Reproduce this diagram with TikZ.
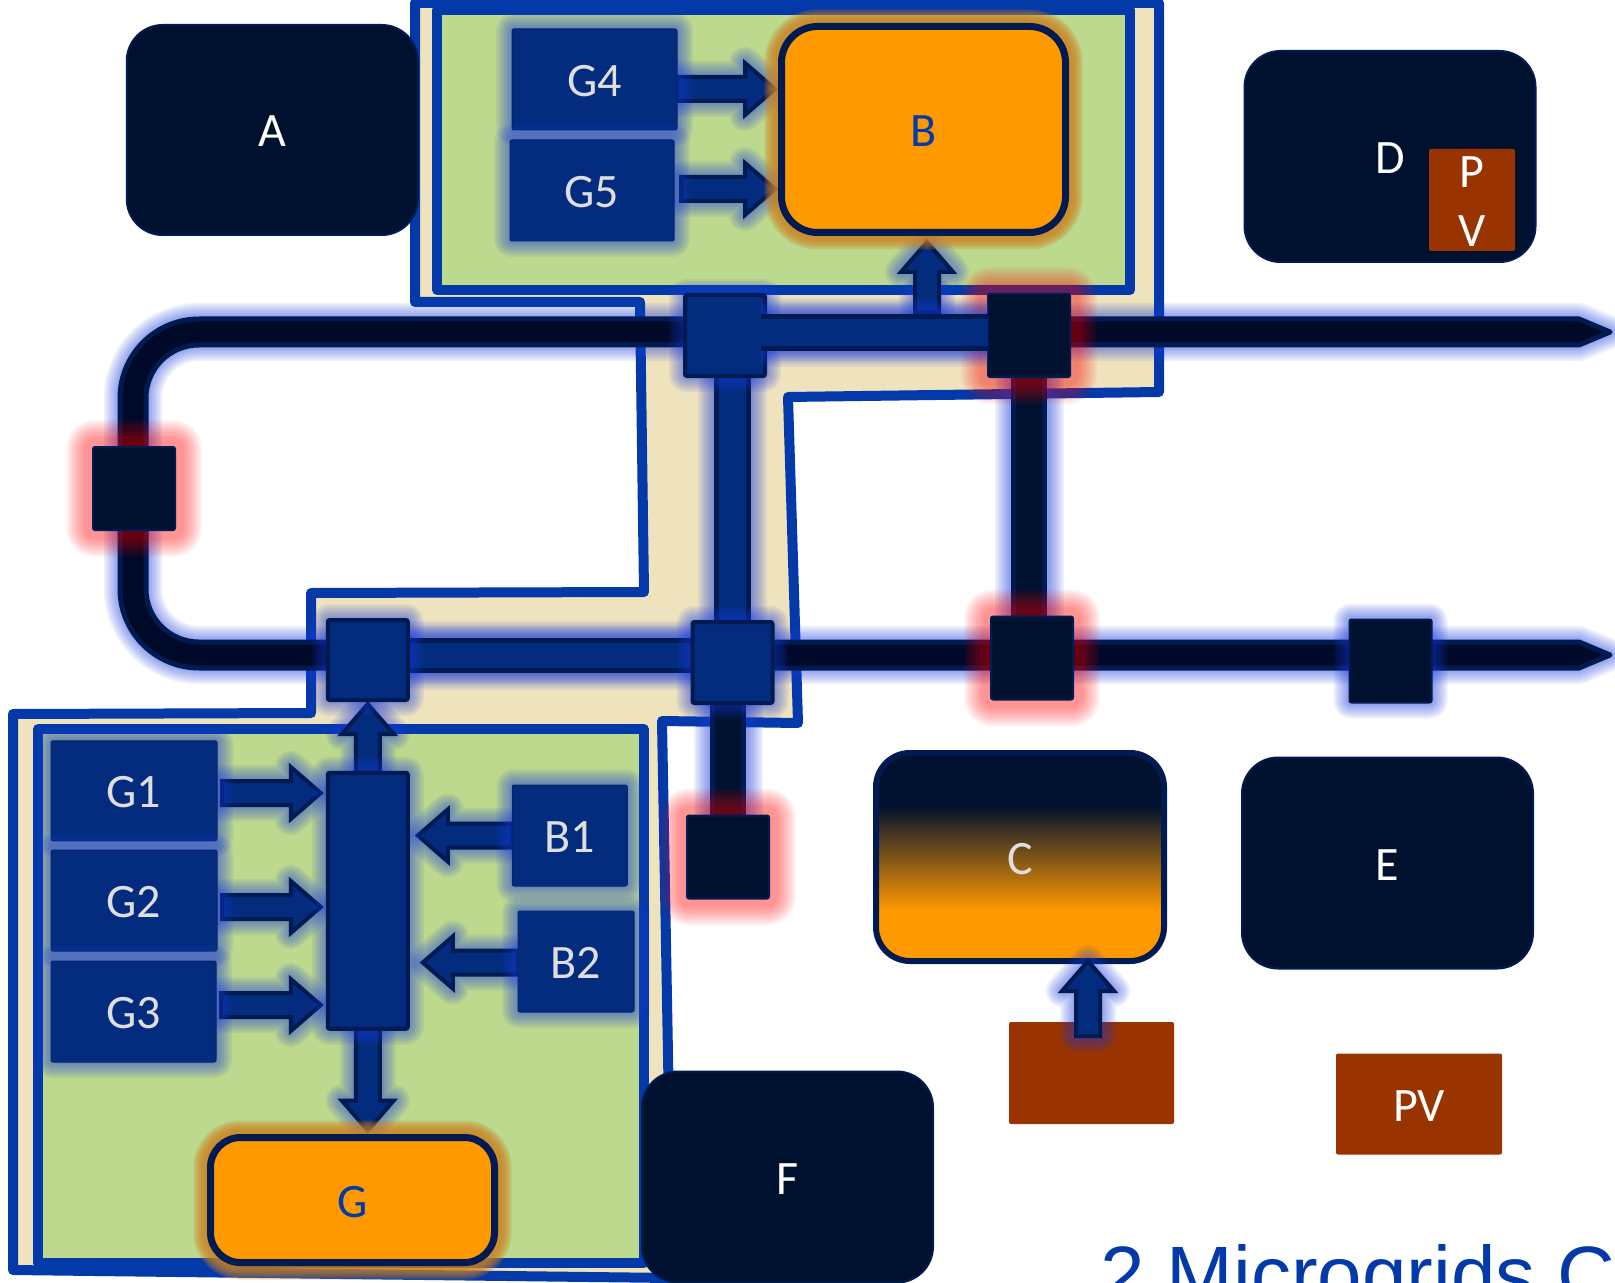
\documentclass[tikz,border=0pt]{standalone}
\usepackage{fontspec}
\setmainfont{Carlito}
\newfontfamily\titlefont{Liberation Sans}
\usetikzlibrary{calc}
\definecolor{dkfill}{HTML}{00112F}
\definecolor{buscore}{HTML}{000A28}
\definecolor{navyline}{HTML}{001A52}
\definecolor{boxblue}{HTML}{032C7F}
\definecolor{polyblue}{HTML}{0339A8}
\definecolor{beigefill}{HTML}{EFE3BE}
\definecolor{greenfill}{HTML}{BDD98D}
\definecolor{orangefill}{HTML}{FF9900}
\definecolor{brownfill}{HTML}{993300}
\definecolor{labelgrey}{HTML}{DEDEDE}
\definecolor{glowblue}{HTML}{1A3DE0}
\definecolor{gloworange}{HTML}{CC8020}
\pgfdeclareverticalshading{cgrad}{100bp}{color(0bp)=(orangefill);color(37.3bp)=(orangefill);color(62.3bp)=(dkfill);color(100bp)=(dkfill)}
\pgfdeclarelayer{base}
\pgfdeclarelayer{wires}
\pgfsetlayers{base,wires,main}
\tikzset{
  sz/.style 2 args={minimum width=#1*0.5pt,minimum height=#2*0.5pt},
  halo/.style args={#1/#2/#3}{preaction={draw=#1,draw opacity=#2,line join=round,line width=#3}},
  glowb/.style={halo=glowblue/.08/16pt,halo=glowblue/.08/14pt,halo=glowblue/.08/12pt,halo=glowblue/.08/10pt,
    halo=glowblue/.08/8pt,halo=glowblue/.08/6pt,halo=glowblue/.08/4pt,halo=glowblue/.08/2pt},
  glowo/.style={halo=gloworange/.25/17pt,halo=gloworange/.25/15pt,halo=gloworange/.25/13pt,halo=gloworange/.25/11pt,
    halo=gloworange/.25/9pt,halo=gloworange/.25/7pt},
  glowr/.style={halo=red/.05/27pt,halo=red/.05/25pt,halo=red/.05/23pt,halo=red/.05/21pt,halo=red/.05/19pt,
    halo=red/.05/17pt,halo=red/.05/15pt,halo=red/.05/13pt,halo=red/.05/11pt,halo=red/.05/9pt},
  wglow/.style={halo=glowblue/.08/34.5pt,halo=glowblue/.08/32.5pt,halo=glowblue/.08/30.5pt,halo=glowblue/.08/28.5pt,
    halo=glowblue/.08/26.5pt,halo=glowblue/.08/24.5pt,halo=glowblue/.08/22.5pt,halo=glowblue/.08/20.5pt},
  every node/.style={inner sep=0pt,outer sep=0pt,font=\fontsize{24}{29.5}\selectfont},
  lbl/.style={text height=17pt,text depth=0pt},
  bigbox/.style={lbl,rounded corners=18pt,fill=dkfill,draw=navyline,line width=1pt,text=white},
  storage/.style={lbl,fill=orangefill,draw=navyline,line width=3.5pt,text=polyblue,glowo},
  bluebox/.style={lbl,rounded corners=1pt,fill=boxblue,draw=boxblue!85!black,line width=.5pt,text=labelgrey,glowb},
  bluesq/.style={rounded corners=1pt,fill=boxblue,draw=navyline,line width=2pt,glowb},
  darksqb/.style={rounded corners=1pt,fill=dkfill,draw=navyline,line width=1pt,glowb},
  darksqr/.style={rounded corners=1pt,fill=dkfill,draw=navyline,line width=1pt,glowr},
  pvbox/.style={rounded corners=1pt,fill=brownfill,text=white,align=center},
  regionpoly/.style={fill=beigefill,draw=polyblue,line width=5pt,line join=round},
  regiongreen/.style={fill=greenfill,draw=polyblue,line width=5pt,line join=round},
  buspoly/.style={fill=buscore,draw=navyline,line width=2.5pt,line join=round,glowb},
  bluewire/.style={wglow,draw=navyline,line width=2.5pt,double=boxblue,double distance=13.5pt},
  darkwire/.style={wglow,draw=navyline,line width=2.5pt,double=dkfill,double distance=13pt},
  blockstyle/.style={fill=boxblue,draw=navyline,line width=2pt,line join=miter,glowb}
}
\newcommand\blockarrow[2]{%
  \draw[blockstyle] ($(#1)!6pt!90:(#2)$) -- ($($(#2)!15pt!(#1)$)!6pt!90:(#2)$)
    -- ($($(#2)!15pt!(#1)$)!13pt!90:(#2)$) -- (#2)
    -- ($($(#2)!15pt!(#1)$)!13pt!-90:(#2)$) -- ($($(#2)!15pt!(#1)$)!6pt!-90:(#2)$)
    -- ($(#1)!6pt!-90:(#2)$) -- cycle;}
\begin{document}
\begin{tikzpicture}[x=0.5pt,y=-0.5pt]
\useasboundingbox (0,0) rectangle (1615,1283);
\begin{pgfonlayer}{base}
  \fill[white] (0,0) rectangle (1615,1283);
  \draw[regionpoly] (415,3) -- (1159,3) -- (1159,392) -- (788,397) -- (798,723) -- (662,721)
    -- (672,1278) -- (13,1270) -- (13,714) -- (311,713) -- (311,593) -- (644,592) -- (640,302) -- (415,302) -- cycle;
  \draw[regiongreen] (437,10) rectangle (1130,290);
  \draw[regiongreen] (38,729) rectangle (643.5,1263);
  \draw[buspoly] (1610,332) -- (1579,319) -- (199,319)
    .. controls (155.4,319) and (120,354.4) .. (120,398) -- (120,589)
    .. controls (120,632.6) and (155.4,668) .. (199,668) -- (1579,668) -- (1610,655) -- (1579,642) -- (199,642)
    .. controls (169.7,642) and (146,618.3) .. (146,589) -- (146,398)
    .. controls (146,368.7) and (169.7,345) .. (199,345) -- (1579,345) -- cycle;
\end{pgfonlayer}

% large units
\node[bigbox,sz={291}{210}] (A) at (272.25,130) {A};
\node[bigbox,sz={291}{211}] (D) at (1390,156.5) {D};
\node[bigbox,sz={291}{211}] (E) at (1387.5,863) {E};
\node[bigbox,sz={291}{211}] (F) at (787.5,1177) {F};
\node[storage,rounded corners=18pt,sz={284}{206}] (B) at (923.5,129.5) {B};
\node[storage,rounded corners=15pt,sz={284}{125}] (G) at (352.5,1200) {G};
\node[lbl,rounded corners=17pt,shading=cgrad,draw=navyline,line width=3pt,text=labelgrey,sz={288}{208}] (C) at (1020,857) {C};

% PV blocks
\node[pvbox,sz={86}{102}] (PVD) at (1472,200) {\rule{0pt}{17pt}P\\V};
\node[pvbox,sz={165}{102}] (PVC) at (1091.5,1073) {};
\node[pvbox,lbl,sz={166}{101}] (PV) at (1419,1104) {PV};

% generators and batteries
\node[bluebox,sz={165}{101}] (G4) at (594.5,79.5) {G4};
\node[bluebox,sz={164}{101}] (G5) at (592,190.5) {G5};
\node[bluebox,sz={166}{100}] (G1) at (134,790.75) {G1};
\node[bluebox,sz={166}{101}] (G2) at (134,900.5) {G2};
\node[bluebox,sz={165}{101}] (G3) at (133.5,1011.5) {G3};
\node[bluebox,sz={115}{101}] (B1) at (569.75,835.5) {B1};
\node[bluebox,sz={116}{101}] (B2) at (576,961.5) {B2};

% bus squares and collector
\node[darksqr,sz={82}{83}] (S2) at (1029,335.5) {};
\node[darksqr,sz={82}{83}] (S3) at (134,488.5) {};
\node[darksqr,sz={82}{83}] (S6) at (1032,658) {};
\node[darksqr,sz={82}{83}] (S8) at (728,857) {};
\node[darksqb,sz={82}{83}] (S7) at (1390.5,661) {};
\node[bluesq,sz={80}{81}] (S1) at (725,335.5) {};
\node[bluesq,sz={80}{80}] (S4) at (367.75,660) {};
\node[bluesq,sz={80}{81}] (S5) at (732.5,662.5) {};
\node[bluesq,sz={80}{256}] (HUB) at (367.75,900.75) {};

% arrow end points
\coordinate (g4o) at (G4.east |- 0,89);
\coordinate (g4i) at (775,89);
\coordinate (g5o) at ($(G5.east |- 0,189)+(7,0)$);
\coordinate (g5i) at (775,189);
\coordinate (g1o) at ($(G1.east |- 0,793)+(5,0)$);
\coordinate (g1i) at ($(HUB.west |- 0,793)+(-7,0)$);
\coordinate (g2o) at ($(G2.east |- 0,907)+(5,0)$);
\coordinate (g2i) at ($(HUB.west |- 0,907)+(-7,0)$);
\coordinate (g3o) at ($(G3.east |- 0,1005)+(5,0)$);
\coordinate (g3i) at ($(HUB.west |- 0,1005)+(-7,0)$);
\coordinate (b1o) at (B1.west |- 0,835.5);
\coordinate (b1i) at ($(HUB.east |- 0,835.5)+(10,0)$);
\coordinate (b2o) at (B2.west |- 0,962.5);
\coordinate (b2i) at ($(HUB.east |- 0,962.5)+(15,0)$);
\coordinate (busup) at (927,313);
\coordinate (bin) at (927,242);
\coordinate (s4in) at ($(S4.south)+(0,4)$);
\coordinate (gin) at ($(G.north -| HUB.south)+(0,-7)$);
\coordinate (pvo) at (1088,1036);
\coordinate (cin) at (1088,0 |- C.south);

% wires and the arrows that run under the boxes
\begin{pgfonlayer}{wires}
  \draw[bluewire] (S5 |- S1.south) -- (S5.north);
  \draw[darkwire] (S2) -- (S2 |- S6.north);
  \draw[darkwire] (S8 |- S5.south) -- (S8.north);
  \draw[bluewire,double distance=12.5pt] (S4.east |- 0,655) -- (S5.west |- 0,655);
  \blockarrow{g4o}{g4i}
  \blockarrow{g5o}{g5i}
  \blockarrow{g1o}{g1i}
  \blockarrow{g2o}{g2i}
  \blockarrow{g3o}{g3i}
  \blockarrow{b1o}{b1i}
  \blockarrow{b2o}{b2i}
  \blockarrow{HUB.north}{s4in}
  \blockarrow{HUB.south}{gin}
  \blockarrow{busup}{bin}
\end{pgfonlayer}
\blockarrow{pvo}{cin}

% thick bus section drawn over the squares
\draw[bluewire] ($(S1.east |- 0,332.5)+(-4,0)$) -- (S2.west |- 0,332.5);

% title, cut off by the lower edge
\node[anchor=base west,font=\titlefont\fontsize{40}{48}\selectfont,text=polyblue] (T) at (1100,1302) {2 Microgrids C};
\end{tikzpicture}
\end{document}
